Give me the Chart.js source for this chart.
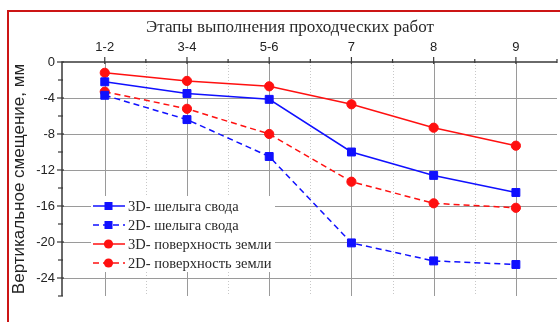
<!DOCTYPE html>
<html>
<head>
<meta charset="utf-8">
<script src="https://cdn.jsdelivr.net/npm/chart.js@4/dist/chart.umd.min.js"></script>
<style>
  html, body { margin: 0; padding: 0; background: #fff; }
  #wrap { width: 560px; height: 322px; }
</style>
</head>
<body>
<div id="wrap"><canvas id="c" width="560" height="322"></canvas></div>
<script>
// Stages of the tunnelling works (x axis, drawn on top)
const stages = ['1-2', '3-4', '5-6', '7', '8', '9'];

// Vertical displacement, mm
const vault3D   = [-2.2, -3.5, -4.15, -10.0, -12.6, -14.5];
const vault2D   = [-3.7, -6.4, -10.5, -20.1, -22.1, -22.5];
const surface3D = [-1.2, -2.1, -2.7, -4.7, -7.3, -9.3];
const surface2D = [-3.3, -5.2, -8.0, -13.3, -15.7, -16.2];

const seriesNames = [
  '3D- шелыга свода',
  '2D- шелыга свода',
  '3D- поверхность земли',
  '2D- поверхность земли'
];

const yTicks = [0, -4, -8, -12, -16, -20, -24];
const yMinorTicks = [-2, -6, -10, -14, -18, -22, -26];
const xTitle = 'Этапы выполнения проходческих работ';
const yTitle = 'Вертикальное смещение, мм';

const BLUE = '#1010ff';
const RED = '#ff1010';

const toPoints = arr => arr.map((v, i) => ({ x: i, y: v }));

function series(label, values, color, dashed, style) {
  return {
    label,
    data: toPoints(values),
    borderColor: color,
    backgroundColor: color,
    borderWidth: 1.5,
    borderDash: dashed ? [6, 4] : [],
    pointStyle: style,
    pointRadius: style === 'rect' ? 5.6 : 4.6,
    pointBorderWidth: 1,
    pointBorderColor: color,
    pointBackgroundColor: color,
    tension: 0,
    fill: false
  };
}

// Grid, axis lines and tick marks, drawn under the data
const gridPlugin = {
  id: 'gridPlugin',
  beforeDatasetsDraw(chart) {
    const { ctx, chartArea: a, scales: { x, y } } = chart;
    ctx.save();
    // minor dotted verticals between stages
    ctx.strokeStyle = '#c8c8c8';
    ctx.lineWidth = 1;
    ctx.setLineDash([1, 2]);
    for (let i = 0; i < stages.length - 1; i++) {
      const px = Math.round(x.getPixelForValue(i + 0.5)) + 0.5;
      ctx.beginPath(); ctx.moveTo(px, a.top); ctx.lineTo(px, a.bottom); ctx.stroke();
    }
    ctx.setLineDash([]);
    // major verticals
    ctx.strokeStyle = '#9a9a9a';
    stages.forEach((_, i) => {
      const px = Math.round(x.getPixelForValue(i)) + 0.5;
      ctx.beginPath(); ctx.moveTo(px, a.top); ctx.lineTo(px, a.bottom); ctx.stroke();
    });
    // major horizontals
    yTicks.forEach(v => {
      if (v === 0) return;
      const py = Math.round(y.getPixelForValue(v)) + 0.5;
      ctx.beginPath(); ctx.moveTo(a.left, py); ctx.lineTo(a.right, py); ctx.stroke();
    });
    // axis lines
    ctx.strokeStyle = '#3a3a3a';
    ctx.lineWidth = 1.5;
    ctx.beginPath();
    ctx.moveTo(a.left, a.bottom); ctx.lineTo(a.left, a.top); ctx.lineTo(a.right, a.top);
    ctx.stroke();
    // tick marks
    ctx.lineWidth = 1.2;
    stages.forEach((_, i) => {
      const px = x.getPixelForValue(i);
      ctx.beginPath(); ctx.moveTo(px, a.top - 5); ctx.lineTo(px, a.top + 2); ctx.stroke();
    });
    for (let i = 0; i < stages.length; i++) {
      const px = x.getPixelForValue(i + 0.5);
      ctx.beginPath(); ctx.moveTo(px, a.top - 3); ctx.lineTo(px, a.top + 1); ctx.stroke();
    }
    yTicks.forEach(v => {
      const py = y.getPixelForValue(v);
      ctx.beginPath(); ctx.moveTo(a.left - 5, py); ctx.lineTo(a.left + 2, py); ctx.stroke();
    });
    yMinorTicks.forEach(v => {
      const py = y.getPixelForValue(v);
      ctx.beginPath(); ctx.moveTo(a.left - 4, py); ctx.lineTo(a.left + 1, py); ctx.stroke();
    });
    ctx.restore();
  }
};

// Red frame, top title and the in-plot legend
const decorPlugin = {
  id: 'decorPlugin',
  beforeDraw(chart) {
    const { ctx } = chart;
    ctx.save();
    ctx.strokeStyle = '#cc1515';
    ctx.lineWidth = 2;
    ctx.beginPath();
    ctx.moveTo(8, 322); ctx.lineTo(8, 11); ctx.lineTo(560, 11);
    ctx.stroke();
    ctx.restore();
  },
  afterDatasetsDraw(chart) {
    const { ctx } = chart;
    ctx.save();
    ctx.fillStyle = '#2a2a2a';
    ctx.font = '17px "Liberation Serif"';
    ctx.textAlign = 'center';
    ctx.textBaseline = 'alphabetic';
    ctx.fillText(xTitle, 290, 32);

    // legend
    ctx.fillStyle = '#ffffff';
    ctx.fillRect(91, 196, 184, 76);
    chart.data.datasets.forEach((ds, i) => {
      const cy = 206 + i * 19;
      ctx.strokeStyle = ds.borderColor;
      ctx.lineWidth = 1.5;
      ctx.setLineDash(ds.borderDash);
      ctx.beginPath(); ctx.moveTo(93, cy); ctx.lineTo(125, cy); ctx.stroke();
      ctx.setLineDash([]);
      ctx.fillStyle = ds.borderColor;
      const mx = 108.5;
      if (ds.pointStyle === 'rect') {
        ctx.fillRect(mx - 4, cy - 4, 8, 8);
      } else {
        ctx.beginPath(); ctx.arc(mx, cy, 4.6, 0, Math.PI * 2); ctx.fill();
      }
      ctx.fillStyle = '#2a2a2a';
      ctx.font = '14.5px "Liberation Serif"';
      ctx.textAlign = 'left';
      ctx.textBaseline = 'middle';
      ctx.fillText(ds.label, 128, cy + 1);
    });
    ctx.restore();
  }
};

new Chart(document.getElementById('c'), {
  type: 'line',
  data: {
    datasets: [
      series(seriesNames[0], vault3D, BLUE, false, 'rect'),
      series(seriesNames[1], vault2D, BLUE, true, 'rect'),
      series(seriesNames[2], surface3D, RED, false, 'circle'),
      series(seriesNames[3], surface2D, RED, true, 'circle')
    ]
  },
  options: {
    responsive: false,
    animation: false,
    devicePixelRatio: 1,
    layout: { autoPadding: false, padding: { left: 0, top: 0, right: 3, bottom: 26 } },
    plugins: { legend: { display: false }, tooltip: { enabled: false } },
    scales: {
      x: {
        type: 'linear',
        position: 'top',
        min: -0.52,
        max: 5.5,
        afterBuildTicks: s => { s.ticks = stages.map((_, i) => ({ value: i })); },
        afterFit: s => { s.height = 62; },
        ticks: {
          autoSkip: false,
          maxRotation: 0,
          padding: 7,
          color: '#222',
          font: { family: 'Liberation Sans', size: 13 },
          callback: v => stages[v]
        },
        grid: { display: false, drawTicks: false },
        border: { display: false }
      },
      y: {
        type: 'linear',
        min: -26,
        max: 0,
        afterBuildTicks: s => { s.ticks = yTicks.map(v => ({ value: v })); },
        afterFit: s => { s.width = 62; },
        ticks: {
          autoSkip: false,
          padding: 7,
          color: '#222',
          font: { family: 'Liberation Sans', size: 13 },
          callback: v => String(v)
        },
        title: {
          display: true,
          text: yTitle,
          color: '#222',
          font: { family: 'Liberation Sans', size: 17 },
          padding: { top: 9, bottom: 0 }
        },
        grid: { display: false, drawTicks: false },
        border: { display: false }
      }
    }
  },
  plugins: [gridPlugin, decorPlugin]
});
</script>
</body>
</html>
